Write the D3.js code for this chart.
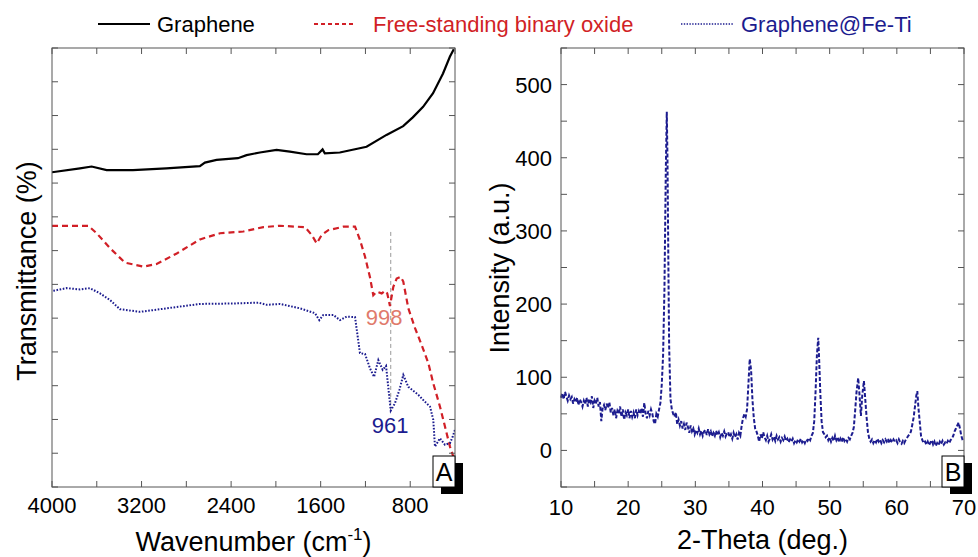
<!DOCTYPE html>
<html>
<head>
<meta charset="utf-8">
<script src="https://cdn.jsdelivr.net/npm/d3@7"></script>
<style>
  body { margin: 0; background: #fff; }
  svg { display: block; font-family: "Liberation Sans", Arial, sans-serif; }
</style>
</head>
<body>
<svg id="chart" width="978" height="557"></svg>
<script>
// FTIR spectra (wavenumber cm-1, transmittance in arbitrary %)
var graphene = [[4000,71.7],[3750,72.6],[3646,73.0],[3512,72.2],[3277,72.2],[2979,72.6],[2679,73.1],[2634,73.9],[2530,74.5],[2339,74.9],[2262,75.6],[2143,76.2],[1994,76.8],[1875,76.4],[1726,75.8],[1625,75.8],[1583,76.9],[1563,76.0],[1429,76.2],[1190,77.5],[1012,80.2],[863,82.2],[777,84.2],[685,86.6],[596,89.7],[507,94.2],[446,98.0],[411,99.7]]

var binaryOxide = [[4000,59.5],[3676,59.5],[3601,57.8],[3482,54.4],[3348,51.1],[3184,50.2],[3065,50.8],[2886,53.2],[2678,56.4],[2499,57.8],[2291,58.2],[2112,59.2],[1963,59.5],[1740,59.2],[1680,57.4],[1635,55.5],[1591,57.4],[1532,58.5],[1398,59.3],[1293,59.3],[1249,56.3],[1204,52.5],[1159,47.7],[1130,43.7],[1099,44.5],[1055,44.1],[1025,44.7],[1005,44.1],[981,41.2],[951,45.6],[921,47.5],[885,47.9],[862,46.8],[817,40.7],[757,36.2],[697,32.3],[638,28.2],[594,23.6],[534,18.3],[489,13.7],[445,9.2],[415,6.9]]

var grapheneFeTi = [[3988,44.7],[3869,45.3],[3750,45.0],[3661,45.3],[3571,44.1],[3482,42.6],[3393,40.5],[3214,39.9],[2975,40.7],[2678,41.7],[2380,41.8],[2157,42.0],[2082,41.5],[1963,41.7],[1785,40.7],[1651,39.6],[1612,38.0],[1576,39.2],[1487,39.2],[1427,38.0],[1368,38.8],[1293,38.7],[1249,30.5],[1204,30.3],[1159,27.0],[1123,25.1],[1085,28.9],[1046,26.7],[1016,27.6],[974,17.4],[936,19.1],[897,22.1],[862,25.5],[817,22.8],[728,21.0],[668,19.4],[623,18.3],[594,15.3],[579,9.2],[534,11.1],[489,9.6],[445,10.0],[420,11.5],[400,13.1]]

// XRD pattern (2-theta deg, intensity a.u.)
var xrd = [[10.0,72],[10.2,78],[10.4,70],[10.6,80],[10.8,74],[11.0,68],[11.2,75],[11.4,70],[11.6,73],[11.8,64],[12.0,70],[12.2,66],[12.4,72],[12.6,62],[12.8,70],[13.0,66],[13.2,60],[13.4,68],[13.6,63],[13.8,72],[14.0,60],[14.2,70],[14.4,66],[14.6,74],[14.8,58],[15.0,68],[15.2,64],[15.4,72],[15.6,60],[15.8,66],[16.0,40],[16.2,58],[16.4,62],[16.6,55],[16.8,64],[17.0,58],[17.2,66],[17.4,52],[17.6,58],[17.8,48],[18.0,56],[18.2,44],[18.4,54],[18.6,50],[18.8,60],[19.0,46],[19.2,56],[19.4,42],[19.6,52],[19.8,48],[20.0,56],[20.2,44],[20.4,54],[20.6,46],[20.8,52],[21.0,44],[21.2,56],[21.4,48],[21.6,54],[21.8,50],[22.0,58],[22.2,46],[22.4,65],[22.6,50],[22.8,44],[23.0,54],[23.2,48],[23.4,56],[23.6,50],[23.8,40],[24.0,36],[24.2,50],[24.4,46],[24.6,56],[24.8,65],[25.0,90],[25.2,130],[25.4,220],[25.6,380],[25.75,463],[25.85,400],[26.0,240],[26.1,143],[26.3,70],[26.5,56],[26.7,50],[26.9,46],[27.1,52],[27.3,36],[27.5,42],[27.7,34],[27.9,40],[28.1,30],[28.3,36],[28.5,28],[28.7,38],[28.9,32],[29.1,24],[29.3,34],[29.5,26],[29.7,30],[29.9,22],[30.1,28],[30.3,24],[30.5,30],[30.7,22],[30.9,27],[31.1,20],[31.3,26],[31.5,28],[31.7,21],[31.9,29],[32.1,22],[32.3,26],[32.5,19],[32.7,24],[32.9,20],[33.1,27],[33.3,21],[33.5,25],[33.7,18],[33.9,24],[34.1,20],[34.3,26],[34.5,19],[34.7,23],[34.9,25],[35.1,18],[35.3,22],[35.5,16],[35.7,24],[35.9,18],[36.1,22],[36.3,15],[36.5,24],[36.7,20],[36.9,34],[37.1,44],[37.3,50],[37.5,46],[37.7,56],[37.9,90],[38.1,125],[38.3,110],[38.5,70],[38.7,45],[38.9,30],[39.1,26],[39.3,20],[39.5,12],[39.7,22],[39.9,16],[40.1,25],[40.3,18],[40.5,14],[40.7,20],[40.9,12],[41.1,16],[41.3,22],[41.5,15],[41.7,19],[41.9,13],[42.1,20],[42.3,15],[42.5,18],[42.7,12],[42.9,17],[43.1,14],[43.3,19],[43.5,13],[43.7,16],[43.9,11],[44.1,15],[44.3,12],[44.5,16],[44.7,10],[44.9,14],[45.1,11],[45.3,15],[45.5,12],[45.7,16],[45.9,11],[46.1,14],[46.3,10],[46.5,15],[46.7,13],[46.9,17],[47.1,14],[47.3,20],[47.5,24],[47.7,40],[47.9,80],[48.1,130],[48.3,154],[48.45,120],[48.6,80],[48.8,40],[49.0,25],[49.2,22],[49.4,18],[49.6,20],[49.8,14],[50.0,18],[50.2,12],[50.4,17],[50.6,13],[50.8,20],[51.0,14],[51.2,18],[51.4,11],[51.6,16],[51.8,12],[52.0,18],[52.2,13],[52.4,16],[52.6,12],[52.8,17],[53.0,15],[53.2,20],[53.4,24],[53.6,32],[53.8,55],[54.0,80],[54.25,99],[54.45,75],[54.65,47],[54.85,75],[55.1,95],[55.3,70],[55.5,45],[55.7,25],[55.9,16],[56.1,12],[56.3,15],[56.5,10],[56.7,14],[56.9,11],[57.1,16],[57.3,12],[57.5,15],[57.7,10],[57.9,14],[58.1,11],[58.3,15],[58.5,12],[58.7,16],[58.9,10],[59.1,14],[59.3,11],[59.5,15],[59.7,12],[59.9,14],[60.1,10],[60.3,15],[60.5,11],[60.7,9],[60.9,13],[61.1,10],[61.3,14],[61.5,17],[61.7,20],[61.9,22],[62.1,26],[62.3,35],[62.5,45],[62.7,60],[62.9,75],[63.05,81],[63.2,60],[63.4,40],[63.6,20],[63.8,14],[64.0,10],[64.2,12],[64.4,8],[64.6,12],[64.8,7],[65.0,11],[65.2,14],[65.4,8],[65.6,12],[65.8,6],[66.0,10],[66.2,7],[66.4,12],[66.6,9],[66.8,13],[67.0,8],[67.2,11],[67.4,9],[67.6,13],[67.8,10],[68.0,14],[68.2,16],[68.4,20],[68.6,26],[68.8,30],[69.0,34],[69.2,38],[69.4,30],[69.6,20],[69.8,14],[70.0,12]]

var irTicks = [4000, 3200, 2400, 1600, 800]
var irMinor = [3600, 2800, 2000, 1200, 400]
var xrdXTicks = [10, 20, 30, 40, 50, 60, 70]
var xrdYTicks = [0, 100, 200, 300, 400, 500]
var xrdYMinor = [-50, 50, 150, 250, 350, 450, 550]

var legendNames = ["Graphene", "Free-standing binary oxide", "Graphene@Fe-Ti"]
var peakLabels = [{text: "998", wn: 1034, t: 36.9}, {text: "961", wn: 980, t: 12.3}]
var markerWn = 974

var colors = {black: "#000", red: "#d11f26", blue: "#1c1c8f", salmon: "#e07a6b", frame: "#555"}

var svg = d3.select("#chart")
var marginTop = 48, plotBottom = 487, plotW = 403, plotH = plotBottom - marginTop

function frame(g, x, y, xt, xm, yt, ym) {
  var tick = 6
  // ticks inside on all four sides
  var xs = xt.concat(xm), ys = yt.concat(ym)
  xs.forEach(function(v) {
    var px = x(v)
    g.append("line").attr("x1", px).attr("x2", px).attr("y1", plotH).attr("y2", plotH - tick)
    g.append("line").attr("x1", px).attr("x2", px).attr("y1", 0).attr("y2", tick)
  })
  ys.forEach(function(v) {
    var py = y(v)
    g.append("line").attr("x1", 0).attr("x2", tick).attr("y1", py).attr("y2", py)
    g.append("line").attr("x1", plotW).attr("x2", plotW - tick).attr("y1", py).attr("y2", py)
  })
  g.selectAll("line").attr("stroke", colors.frame).attr("stroke-width", 1)
  g.append("rect").attr("width", plotW).attr("height", plotH)
    .attr("fill", "none").attr("stroke", colors.frame).attr("stroke-width", 1)
}

function cornerBox(g, letter) {
  var bw = 22, bh = 31
  g.append("rect").attr("x", plotW - bw + 8).attr("y", plotH - bh + 7).attr("width", bw).attr("height", bh).attr("fill", "#000")
  g.append("rect").attr("x", plotW - bw).attr("y", plotH - bh).attr("width", bw).attr("height", bh)
    .attr("fill", "#fff").attr("stroke", "#000").attr("stroke-width", 1)
  g.append("text").attr("x", plotW - bw / 2).attr("y", plotH - 6).attr("text-anchor", "middle")
    .style("font-size", "25px").text(letter)
}

// ---------- panel A: FTIR ----------
var gA = svg.append("g").attr("transform", "translate(52," + marginTop + ")")
var xA = d3.scaleLinear().domain([4000, 400]).range([0, plotW])
var yA = d3.scaleLinear().domain([0, 100]).range([plotH, 0])
var yATicks = d3.range(14).map(function(i) { return i * 100 / 13 })

var clipA = gA.append("clipPath").attr("id", "clipA")
clipA.append("rect").attr("width", plotW).attr("height", plotH)

var lineA = d3.line().x(function(d) { return xA(d[0]) }).y(function(d) { return yA(d[1]) })
var curvesA = gA.append("g").attr("clip-path", "url(#clipA)")

curvesA.append("line")
  .attr("x1", xA(markerWn)).attr("x2", xA(markerWn))
  .attr("y1", yA(58.1)).attr("y2", yA(17.5))
  .attr("stroke", "#999").attr("stroke-width", 1).attr("stroke-dasharray", "4,3")

curvesA.append("path").datum(graphene).attr("d", lineA)
  .attr("fill", "none").attr("stroke", colors.black).attr("stroke-width", 2.2)
curvesA.append("path").datum(binaryOxide).attr("d", lineA)
  .attr("fill", "none").attr("stroke", colors.red).attr("stroke-width", 2.2).attr("stroke-dasharray", "6,4")
curvesA.append("path").datum(grapheneFeTi).attr("d", lineA)
  .attr("fill", "none").attr("stroke", colors.blue).attr("stroke-width", 2).attr("stroke-dasharray", "1.6,1.6")

gA.selectAll(".peak").data(peakLabels).enter().append("text")
  .attr("class", "peak")
  .attr("x", function(d) { return xA(d.wn) })
  .attr("y", function(d) { return yA(d.t) })
  .attr("text-anchor", "middle")
  .style("font-size", "22px")
  .style("fill", function(d, i) { return i == 0 ? colors.salmon : colors.blue })
  .text(function(d) { return d.text })

frame(gA.append("g"), xA, yA, irTicks, irMinor, yATicks, [])
cornerBox(gA, "A")

gA.selectAll(".xlab").data(irTicks).enter().append("text")
  .attr("x", function(d) { return xA(d) }).attr("y", plotH + 26)
  .attr("text-anchor", "middle").style("font-size", "22px").text(function(d) { return d })

var wl = gA.append("text").attr("x", plotW / 2).attr("y", plotH + 64)
  .attr("text-anchor", "middle").style("font-size", "27px")
wl.append("tspan").text("Wavenumber (cm")
wl.append("tspan").attr("dy", -11).style("font-size", "17px").text("-1")
wl.append("tspan").attr("dy", 11).text(")")

gA.append("text").attr("transform", "translate(-16," + (271 - marginTop) + ") rotate(-90)")
  .attr("text-anchor", "middle").style("font-size", "27px").text("Transmittance (%)")

// ---------- panel B: XRD ----------
var gB = svg.append("g").attr("transform", "translate(561," + marginTop + ")")
var xB = d3.scaleLinear().domain([10, 70]).range([0, plotW])
var yB = d3.scaleLinear().domain([-50, 550]).range([plotH, 0])

var lineB = d3.line().x(function(d) { return xB(d[0]) }).y(function(d) { return yB(d[1]) })
gB.append("path").datum(xrd).attr("d", lineB)
  .attr("fill", "none").attr("stroke", colors.blue).attr("stroke-width", 2).attr("stroke-dasharray", "4,2")

var xBMinor = xrdXTicks.slice(0, -1).map(function(d) { return d + 5 })
frame(gB.append("g"), xB, yB, xrdXTicks, xBMinor, xrdYTicks, xrdYMinor)
cornerBox(gB, "B")

gB.selectAll(".xlab").data(xrdXTicks).enter().append("text")
  .attr("x", function(d) { return xB(d) }).attr("y", plotH + 28)
  .attr("text-anchor", "middle").style("font-size", "22px").text(function(d) { return d })
gB.selectAll(".ylab").data(xrdYTicks).enter().append("text")
  .attr("x", -9).attr("y", function(d) { return yB(d) + 8 })
  .attr("text-anchor", "end").style("font-size", "22px").text(function(d) { return d })

gB.append("text").attr("x", plotW / 2).attr("y", plotH + 62)
  .attr("text-anchor", "middle").style("font-size", "27px").text("2-Theta (deg.)")
gB.append("text").attr("transform", "translate(-52," + (268 - marginTop) + ") rotate(-90)")
  .attr("text-anchor", "middle").style("font-size", "27px").text("Intensity (a.u.)")

// ---------- legend ----------
var legendX = [98, 314, 681]
var legendW = [52, 40, 53]
var legendTextX = [157, 373, 741]
var legendStyle = [
  {color: colors.black, dash: null, w: 2.2},
  {color: colors.red, dash: "4,3", w: 2},
  {color: colors.blue, dash: "1.4,1.4", w: 1.6}
]
var leg = svg.append("g")
legendNames.forEach(function(name, i) {
  var s = legendStyle[i]
  leg.append("line").attr("x1", legendX[i]).attr("x2", legendX[i] + legendW[i])
    .attr("y1", 24).attr("y2", 24)
    .attr("stroke", s.color).attr("stroke-width", s.w).attr("stroke-dasharray", s.dash)
  leg.append("text").attr("x", legendTextX[i]).attr("y", 32)
    .style("font-size", "22px").style("fill", i == 0 ? "#000" : s.color).text(name)
})
</script>
</body>
</html>
